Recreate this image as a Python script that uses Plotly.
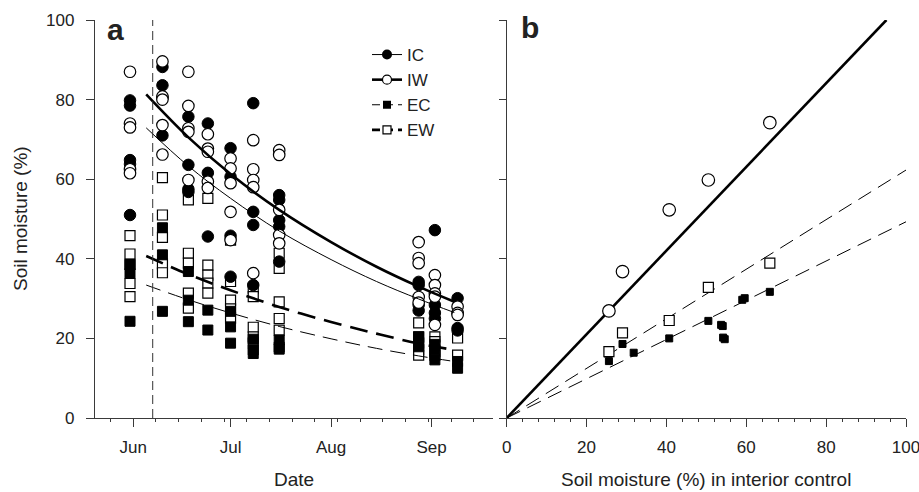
import plotly.graph_objects as go

# ---------------- data: panel a (time series) ----------------
sample_dates = ["2000-05-31", "2000-06-10", "2000-06-18", "2000-06-24", "2000-07-01",
                "2000-07-08", "2000-07-16", "2000-08-28", "2000-09-02", "2000-09-09"]

ic_values = [[79.8, 78.5, 64.8, 63.8, 51.0],
             [88.2, 83.6, 80.5, 71.0],
             [75.7, 63.6, 57.5, 56.8],
             [74.0, 61.6, 45.6],
             [67.8, 60.6, 45.8, 35.5],
             [79.1, 51.8, 48.5, 33.4],
             [56.0, 54.8, 49.7, 48.1, 39.3],
             [34.2, 33.4, 28.4, 27.0],
             [47.2, 28.4, 26.4, 25.0],
             [30.1, 22.6, 22.0]]

iw_values = [[87.0, 74.0, 73.0, 62.5, 61.5],
             [89.6, 80.8, 80.0, 73.6, 66.2],
             [87.0, 78.4, 72.8, 71.9, 59.8],
             [71.3, 67.7, 66.9, 59.4, 57.8],
             [65.2, 62.7, 59.0, 51.8, 44.7],
             [69.8, 62.5, 59.8, 58.0, 36.4],
             [67.3, 66.1, 52.3, 46.0, 43.9],
             [44.2, 40.2, 38.9, 30.4, 29.0],
             [35.9, 33.4, 31.3, 30.5, 23.4],
             [28.0, 26.4, 25.9]]

ec_values = [[38.5, 36.3, 24.3],
             [47.8, 41.0, 26.8],
             [36.8, 29.6, 24.2],
             [27.1, 22.1],
             [26.8, 22.9, 18.8],
             [19.8, 17.1, 16.2],
             [19.6, 17.8, 17.3],
             [20.4, 17.9],
             [18.5, 17.1, 14.6],
             [14.2, 12.5]]

ew_values = [[45.8, 41.2, 38.6, 33.8, 30.5],
             [60.4, 51.0, 45.4, 38.7, 36.5],
             [54.8, 41.4, 38.9, 31.4, 27.6],
             [55.2, 38.4, 35.9, 33.9, 31.4],
             [44.7, 34.3, 29.6, 27.4, 25.1],
             [32.6, 30.5, 22.8, 20.4, 18.8],
             [41.4, 37.6, 29.2, 25.0, 22.1],
             [23.9, 20.4, 18.8, 17.1, 15.8],
             [20.4, 19.2, 16.7, 15.8],
             [20.1, 15.8]]

# fitted curves
fit_dates = ["2000-06-05", "2000-06-18", "2000-07-01", "2000-07-16",
             "2000-08-01", "2000-08-15", "2000-08-28", "2000-09-08"]
ic_fit = [72.9, 63.3, 55.2, 47.0, 39.8, 34.3, 29.9, 26.5]
iw_fit = [81.3, 70.5, 61.3, 52.3, 44.2, 38.0, 33.0, 29.2]
ec_fit = [33.4, 29.7, 26.4, 23.0, 19.9, 17.5, 15.6, 14.2]
ew_fit = [40.7, 36.1, 32.1, 27.9, 24.1, 21.2, 18.7, 17.1]

treatment_start = "2000-06-07"

# ---------------- data: panel b (vs interior control) ----------------
b_iw_x = [25.6, 29.0, 40.7, 50.5, 65.9]
b_iw_y = [26.9, 36.8, 52.3, 59.8, 74.2]
b_ew_x = [25.6, 29.0, 40.7, 50.5, 65.9]
b_ew_y = [16.7, 21.4, 24.5, 32.8, 38.9]
b_ec_x = [25.6, 29.0, 31.8, 40.7, 50.5, 53.7, 54.1, 54.2, 54.6, 59.0, 59.6, 65.9]
b_ec_y = [14.3, 18.6, 16.4, 20.0, 24.4, 23.4, 23.1, 20.2, 19.8, 29.7, 30.1, 31.7]

b_iw_line_x = [0, 95.1]
b_iw_line_y = [0, 100]
b_ew_line_x = [0, 100]
b_ew_line_y = [0, 62.3]
b_ec_line_x = [0, 100]
b_ec_line_y = [0, 49.3]

legend_names = ["IC", "IW", "EC", "EW"]


def flatten(dates, groups):
    xs, ys = [], []
    for d, vals in zip(dates, groups):
        for v in vals:
            xs.append(d)
            ys.append(v)
    return xs, ys


BLACK = "black"
FONT = "Arial, Liberation Sans, sans-serif"
AX = "#3a3a3a"

fig = go.Figure()

# ---- panel a markers ----
sq_size, circ_size = 10, 11.5
x, y = flatten(sample_dates, ew_values)
fig.add_trace(go.Scatter(x=x, y=y, mode="markers", showlegend=False,
                         marker=dict(symbol="square", size=sq_size, color="white",
                                     line=dict(color=BLACK, width=1.2)),
                         xaxis="x", yaxis="y"))
x, y = flatten(sample_dates, ec_values)
fig.add_trace(go.Scatter(x=x, y=y, mode="markers", showlegend=False,
                         marker=dict(symbol="square", size=sq_size, color=BLACK,
                                     line=dict(color=BLACK, width=1)),
                         xaxis="x", yaxis="y"))
x, y = flatten(sample_dates, ic_values)
fig.add_trace(go.Scatter(x=x, y=y, mode="markers", showlegend=False,
                         marker=dict(symbol="circle", size=circ_size, color=BLACK,
                                     line=dict(color=BLACK, width=1)),
                         xaxis="x", yaxis="y"))
x, y = flatten(sample_dates, iw_values)
fig.add_trace(go.Scatter(x=x, y=y, mode="markers", showlegend=False,
                         marker=dict(symbol="circle", size=circ_size, color="white",
                                     line=dict(color=BLACK, width=1.2)),
                         xaxis="x", yaxis="y"))

# ---- panel a fitted curves ----
fig.add_trace(go.Scatter(x=fit_dates, y=ic_fit, mode="lines", line_shape="spline", showlegend=False,
                         line=dict(color=BLACK, width=1), xaxis="x", yaxis="y"))
fig.add_trace(go.Scatter(x=fit_dates, y=iw_fit, mode="lines", line_shape="spline", showlegend=False,
                         line=dict(color=BLACK, width=2.6), xaxis="x", yaxis="y"))
fig.add_trace(go.Scatter(x=fit_dates, y=ec_fit, mode="lines", line_shape="spline", showlegend=False,
                         line=dict(color=BLACK, width=1, dash="15px,8px"), xaxis="x", yaxis="y"))
fig.add_trace(go.Scatter(x=fit_dates, y=ew_fit, mode="lines", line_shape="spline", showlegend=False,
                         line=dict(color=BLACK, width=2.6, dash="18px,9px"), xaxis="x", yaxis="y"))

# treatment start line
fig.add_trace(go.Scatter(x=[treatment_start, treatment_start], y=[0, 100], mode="lines",
                         showlegend=False, line=dict(color="#333", width=1, dash="9px,5px"),
                         xaxis="x", yaxis="y"))

# ---- panel b ----
fig.add_trace(go.Scatter(x=b_iw_line_x, y=b_iw_line_y, mode="lines", showlegend=False,
                         line=dict(color=BLACK, width=2.6), xaxis="x2", yaxis="y2"))
fig.add_trace(go.Scatter(x=b_ew_line_x, y=b_ew_line_y, mode="lines", showlegend=False,
                         line=dict(color=BLACK, width=1, dash="15px,8px"), xaxis="x2", yaxis="y2"))
fig.add_trace(go.Scatter(x=b_ec_line_x, y=b_ec_line_y, mode="lines", showlegend=False,
                         line=dict(color=BLACK, width=1, dash="15px,8px"), xaxis="x2", yaxis="y2"))
fig.add_trace(go.Scatter(x=b_iw_x, y=b_iw_y, mode="markers", showlegend=False,
                         marker=dict(symbol="circle", size=12.5, color="white",
                                     line=dict(color=BLACK, width=1.2)),
                         xaxis="x2", yaxis="y2"))
fig.add_trace(go.Scatter(x=b_ew_x, y=b_ew_y, mode="markers", showlegend=False,
                         marker=dict(symbol="square", size=10, color="white",
                                     line=dict(color=BLACK, width=1.2)),
                         xaxis="x2", yaxis="y2"))
fig.add_trace(go.Scatter(x=b_ec_x, y=b_ec_y, mode="markers", showlegend=False,
                         marker=dict(symbol="square", size=7, color=BLACK,
                                     line=dict(color=BLACK, width=1)),
                         xaxis="x2", yaxis="y2"))

# ---- legend entries ----
leg_styles = [
    dict(line=dict(color=BLACK, width=1), marker=dict(symbol="circle", size=10, color=BLACK)),
    dict(line=dict(color=BLACK, width=2.6), marker=dict(symbol="circle", size=9, color="white",
                                                         line=dict(color=BLACK, width=1.2))),
    dict(line=dict(color=BLACK, width=1, dash="8px,5px"), marker=dict(symbol="square", size=8, color=BLACK)),
    dict(line=dict(color=BLACK, width=2.6, dash="8px,5px"), marker=dict(symbol="square", size=8, color="white",
                                                                         line=dict(color=BLACK, width=1.2))),
]
for name, st in zip(legend_names, leg_styles):
    fig.add_trace(go.Scatter(x=[None], y=[None], mode="lines+markers", name=name,
                             legendgroup=name, xaxis="x", yaxis="y", **st))

# ---- layout ----
L, R, T, B = 95, 13, 20, 74
W, H = 919, 492
PW = W - L - R
PH = H - T - B


def xp(px):
    return (px - L) / PW


def yp(py):
    return 1 - (py - T) / PH


axis_common = dict(showline=True, linecolor=AX, linewidth=1.3, ticks="outside", tickcolor=AX,
                   tickwidth=1.3, showgrid=False, zeroline=False, ticklabeloverflow="allow",
                   tickfont=dict(family=FONT, size=17, color="#222"))

fig.update_layout(
    width=W, height=H,
    margin=dict(l=L, r=R, t=T, b=B, autoexpand=False),
    paper_bgcolor="white", plot_bgcolor="white",
    font=dict(family=FONT, color="#222"),
    xaxis=dict(domain=[0, xp(493)], type="date",
               range=["2000-05-20 05:00", "2000-09-19 22:00"],
               tick0="2000-06-01", dtick="M1", tickformat="%b", ticklen=8, ticklabelstandoff=5,
               minor=dict(ticks="outside", ticklen=3, tickcolor=AX, dtick=7 * 86400000,
                          tick0="2000-05-25", showgrid=False),
               anchor="y", **axis_common),
    yaxis=dict(domain=[0, 1], range=[0, 100], dtick=20, anchor="x", ticklen=8,
               ticklabelstandoff=8, **axis_common),
    xaxis2=dict(domain=[xp(506.7), 1], range=[0, 100], dtick=20, ticklen=8, ticklabelstandoff=5,
                minor=dict(ticks="outside", ticklen=3, tickcolor=AX, dtick=4, showgrid=False),
                anchor="y2", **axis_common),
    yaxis2=dict(domain=[0, 1], range=[0, 100], dtick=20, anchor="x2", showticklabels=False,
                ticklen=7, **axis_common),
    showlegend=True,
    legend=dict(x=xp(367), y=yp(37), xanchor="left", yanchor="top", bgcolor="rgba(0,0,0,0)",
                font=dict(family=FONT, size=17, color="#222"), traceorder="normal",
                tracegroupgap=1, itemsizing="trace"),
    annotations=[
        dict(text="Soil moisture (%)", x=xp(20), y=yp(219), xref="paper", yref="paper",
             textangle=-90, showarrow=False, font=dict(family=FONT, size=19, color="#222"),
             xanchor="center", yanchor="middle"),
        dict(text="Date", x=xp(294), y=yp(479), xref="paper", yref="paper", showarrow=False,
             font=dict(family=FONT, size=19, color="#222"), xanchor="center", yanchor="middle"),
        dict(text="Soil moisture (%) in interior control", x=xp(706), y=yp(480), xref="paper",
             yref="paper", showarrow=False, font=dict(family=FONT, size=19, color="#222"),
             xanchor="center", yanchor="middle"),
        dict(text="<b>a</b>", x=xp(105), y=yp(29), xref="paper", yref="paper", showarrow=False,
             font=dict(family=FONT, size=30, color="#222"), xanchor="left", yanchor="middle"),
        dict(text="<b>b</b>", x=xp(519), y=yp(28), xref="paper", yref="paper", showarrow=False,
             font=dict(family=FONT, size=30, color="#222"), xanchor="left", yanchor="middle"),
    ],
)

fig.write_html("out.html")
